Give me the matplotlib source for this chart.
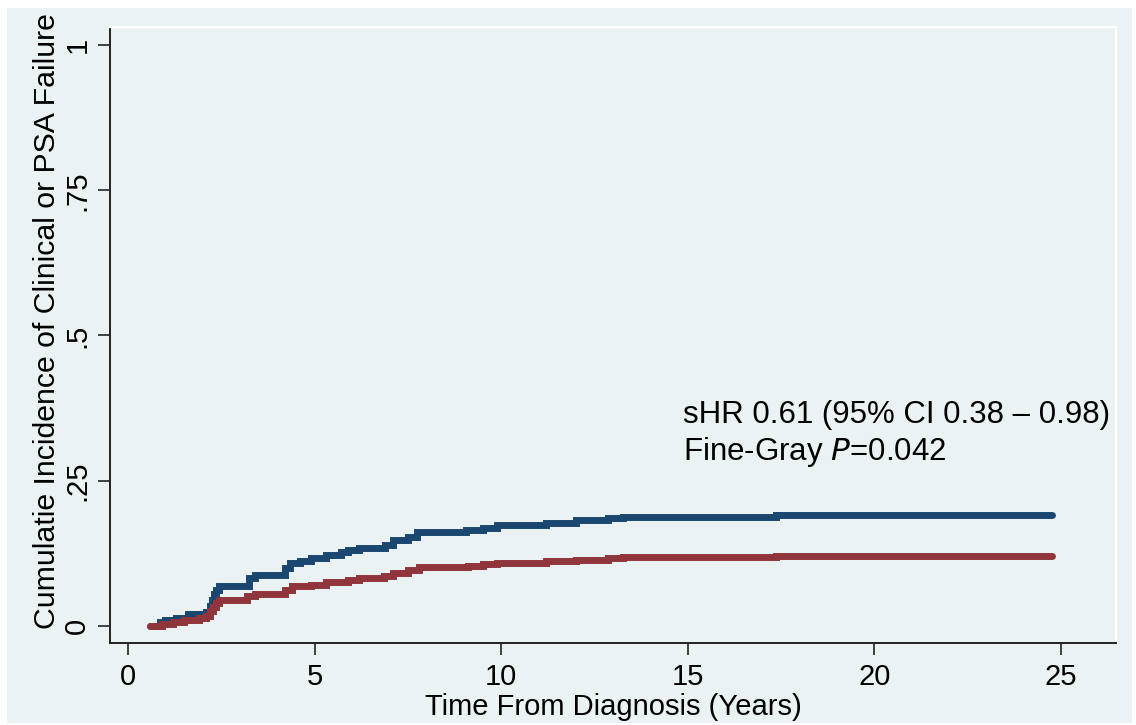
import matplotlib
matplotlib.use("Agg")
import matplotlib.pyplot as plt
from matplotlib.patches import Rectangle

plt.rcParams['font.family'] = ['Liberation Sans', 'DejaVu Sans']

# cumulative incidence, step curves (years, value)
blue_t = [0.59, 0.86, 1.0, 1.3, 1.6, 2.1, 2.2, 2.25, 2.3, 2.35, 2.45, 3.25, 3.4,
          4.2, 4.35, 4.6, 4.9, 5.3, 5.7, 5.9, 6.2, 6.9, 7.1, 7.5, 7.75, 9.05,
          9.5, 9.9, 11.2, 12.0, 12.85, 13.25, 17.35, 24.76]
blue_v = [0.0, 0.006, 0.010, 0.014, 0.020, 0.024, 0.035, 0.045, 0.055, 0.062,
          0.068, 0.083, 0.088, 0.100, 0.108, 0.112, 0.117, 0.122, 0.127, 0.130,
          0.134, 0.140, 0.148, 0.153, 0.162, 0.165, 0.169, 0.173, 0.177, 0.182,
          0.185, 0.188, 0.191, 0.191]

red_t = [0.59, 0.9, 1.2, 1.5, 1.9, 2.1, 2.2, 2.27, 2.35, 2.45, 3.2, 3.4, 4.2,
         4.4, 4.9, 5.3, 5.9, 6.2, 6.85, 7.1, 7.5, 7.8, 9.1, 9.5, 9.9, 11.2,
         12.0, 12.85, 13.25, 17.35, 24.76]
red_v = [0.0, 0.004, 0.007, 0.010, 0.014, 0.017, 0.025, 0.033, 0.040, 0.044,
         0.052, 0.055, 0.062, 0.068, 0.071, 0.076, 0.080, 0.083, 0.086, 0.092,
         0.097, 0.102, 0.104, 0.106, 0.108, 0.111, 0.114, 0.117, 0.119, 0.121,
         0.121]

x_ticks = [0, 5, 10, 15, 20, 25]
y_ticks = [0, 0.25, 0.5, 0.75, 1]
y_ticklabels = ["0", ".25", ".5", ".75", "1"]

bg = "#eaf2f3"
fig = plt.figure(figsize=(11.36, 7.25), dpi=100, facecolor="white")
fig.patches.append(Rectangle((7 / 1136, 2 / 725), 1125 / 1136, 715 / 725,
                             transform=fig.transFigure, facecolor=bg,
                             edgecolor="none", zorder=-10))
ax = fig.add_axes([110 / 1136, 82 / 725, 1006 / 1136, 616 / 725])
ax.set_facecolor(bg)

ax.plot(blue_t, blue_v, drawstyle="steps-post", color="#1a476f", lw=5,
        solid_capstyle="round", solid_joinstyle="miter")
ax.plot(red_t, red_v, drawstyle="steps-post", color="#90353b", lw=5,
        solid_capstyle="round", solid_joinstyle="miter")

ax.set_xlim(-0.48, 26.47)
ax.set_ylim(-0.0293, 1.031)
ax.set_xticks(x_ticks)
ax.set_yticks(y_ticks)
ax.set_yticklabels(y_ticklabels)
ax.tick_params(axis="both", length=8.5, width=1.2, colors="#222222",
               labelsize=21, labelcolor="black")
ax.tick_params(axis="y", labelrotation=90, pad=5)
ax.tick_params(axis="x", pad=6)
for lab in ax.get_yticklabels():
    lab.set_va("center")

for s in ["left", "bottom"]:
    ax.spines[s].set_color("#222222")
    ax.spines[s].set_linewidth(1.4)
for s in ["top", "right"]:
    ax.spines[s].set_color("white")
    ax.spines[s].set_linewidth(1.6)

ax.set_xlabel("Time From Diagnosis (Years)", fontsize=21, labelpad=1)
ax.set_ylabel("Cumulatie Incidence of Clinical or PSA Failure", fontsize=21.8)
ax.yaxis.set_label_coords(-0.0487, 0.523)

ax.text(14.87, 0.349, "sHR 0.61 (95% CI 0.38 \u2013 0.98)", fontsize=22.5,
        va="baseline", ha="left")
ax.text(14.87, 0.286, "Fine-Gray $\\mathit{P}$=0.042", fontsize=22.5,
        va="baseline", ha="left")

fig.savefig("out.png", dpi=100, facecolor="white")
